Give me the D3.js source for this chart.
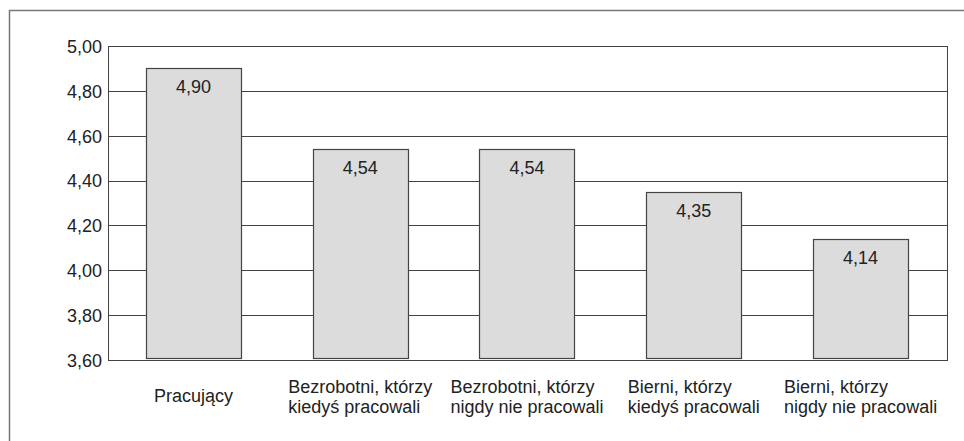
<!DOCTYPE html>
<html>
<head>
<meta charset="utf-8">
<script src="https://cdn.jsdelivr.net/npm/d3@7"></script>
<style>
  body { margin: 0; background: #fff; }
  text { font-family: "Liberation Sans", Arial, sans-serif; fill: #222; }
</style>
</head>
<body>
<svg id="chart" width="964" height="441"></svg>
<script>
// data
var categories = ["Pracujący", "Bezrobotni, którzy kiedyś pracowali", "Bezrobotni, którzy nigdy nie pracowali", "Bierni, którzy kiedyś pracowali", "Bierni, którzy nigdy nie pracowali"];
var labelLines = [["Pracujący"], ["Bezrobotni, którzy", "kiedyś pracowali"], ["Bezrobotni, którzy", "nigdy nie pracowali"], ["Bierni, którzy", "kiedyś pracowali"], ["Bierni, którzy", "nigdy nie pracowali"]];
var values = [4.90, 4.54, 4.54, 4.35, 4.14];
var yTicks = [3.6, 3.8, 4.0, 4.2, 4.4, 4.6, 4.8, 5.0];

var svg = d3.select("#chart");
var plotLeft = 108, plotRight = 947, plotTop = 46, plotBottom = 360;
var fmt = function(v) { return d3.format(".2f")(v).replace(".", ","); };

var x = d3.scaleBand()
  .domain(categories)
  .range([110, 944])
  .paddingInner(0.43)
  .paddingOuter(0.215);

var y = d3.scaleLinear()
  .domain([3.6, 5.0])
  .range([plotBottom, plotTop]);

// outer frame (open to the right and bottom)
svg.append("path")
  .attr("d", "M9.5,441 V10.5 H964")
  .attr("fill", "none")
  .attr("stroke", "#777")
  .attr("stroke-width", 1.5);

// gridlines
svg.append("g")
  .selectAll("line")
  .data(yTicks)
  .enter()
    .append("line")
    .attr("x1", plotLeft)
    .attr("x2", plotRight)
    .attr("y1", function(d) { return Math.round(y(d)) + 0.5; })
    .attr("y2", function(d) { return Math.round(y(d)) + 0.5; })
    .attr("stroke", "#444")
    .attr("stroke-width", 1);

// plot box
svg.append("rect")
  .attr("x", plotLeft + 0.5)
  .attr("y", Math.round(y(5.0)) + 0.5)
  .attr("width", plotRight - plotLeft)
  .attr("height", Math.round(y(3.6)) - Math.round(y(5.0)))
  .attr("fill", "none")
  .attr("stroke", "#444")
  .attr("stroke-width", 1);

// y tick labels
svg.append("g")
  .selectAll("text")
  .data(yTicks)
  .enter()
    .append("text")
    .attr("x", 102)
    .attr("y", function(d) { return y(d); })
    .attr("dy", "0.38em")
    .attr("text-anchor", "end")
    .style("font-size", "18px")
    .text(fmt);

// bars
var bar = svg.append("g")
  .selectAll("g")
  .data(values)
  .enter()
    .append("g");

bar.append("rect")
  .attr("x", function(d, i) { return Math.round(x(categories[i])) + 0.5; })
  .attr("y", function(d) { return Math.round(y(d)) + 0.5; })
  .attr("width", Math.round(x.bandwidth()))
  .attr("height", function(d) { return Math.round(y(3.6)) - 2 - Math.round(y(d)); })
  .attr("fill", "#dcdcdc")
  .attr("stroke", "#444")
  .attr("stroke-width", 1.2);

bar.append("text")
  .attr("x", function(d, i) { return x(categories[i]) + x.bandwidth() / 2; })
  .attr("y", function(d) { return y(d) + 25; })
  .attr("text-anchor", "middle")
  .style("font-size", "18px")
  .text(fmt);

// category labels: lines left aligned, block centred under the bar
labelLines.forEach(function(lines, i) {
  var cx = x(categories[i]) + x.bandwidth() / 2;
  var g = svg.append("g");
  var base = lines.length == 1 ? 402 : 393;
  var t = g.selectAll("text")
    .data(lines)
    .enter()
      .append("text")
      .attr("y", function(d, j) { return base + j * 20; })
      .style("font-size", "18px")
      .text(function(d) { return d; });
  var w = 0;
  t.each(function() { w = Math.max(w, this.getComputedTextLength()); });
  t.attr("x", cx - w / 2);
});
</script>
</body>
</html>
